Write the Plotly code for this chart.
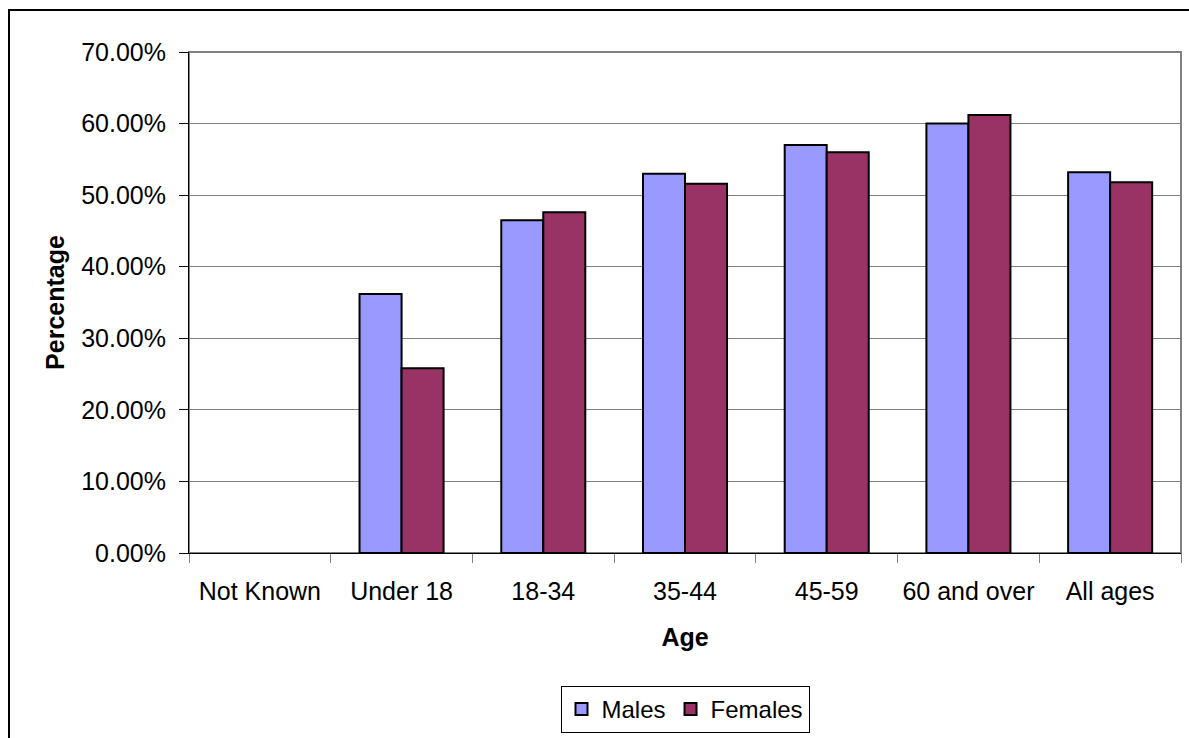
import plotly.graph_objects as go

# Share of people by age group and sex
age_groups = ["Not Known", "Under 18", "18-34", "35-44", "45-59", "60 and over", "All ages"]
males = [0.0, 0.362, 0.465, 0.530, 0.570, 0.600, 0.532]
females = [0.0, 0.258, 0.476, 0.516, 0.560, 0.612, 0.518]
y_ticks = [0.0, 0.1, 0.2, 0.3, 0.4, 0.5, 0.6, 0.7]

FONT = "Liberation Sans, Arial, sans-serif"


def outline(values):
    # no outline for empty bars, so nothing is stroked on the axis
    return [2 if v > 0 else 0 for v in values]


fig = go.Figure()
fig.add_trace(go.Bar(
    name="Males", x=age_groups, y=males,
    marker=dict(color="#9999FF", line=dict(color="#000000", width=outline(males))),
))
fig.add_trace(go.Bar(
    name="Females", x=age_groups, y=females,
    marker=dict(color="#993366", line=dict(color="#000000", width=outline(females))),
))

W, H = 1189, 738
L, R, T, B = 189, 8, 52, 185
pw, ph = W - L - R, H - T - B


def px_x(x):
    return (x - L) / pw


def px_y(y):
    return (H - B - y) / ph


fig.update_layout(
    width=W, height=H,
    margin=dict(l=L, r=R, t=T, b=B, autoexpand=False),
    paper_bgcolor="white", plot_bgcolor="white",
    font=dict(family=FONT, size=25, color="#000000"),
    barmode="group", bargap=0.407, bargroupgap=0,
    showlegend=True,
    legend=dict(
        orientation="h", x=0.5, xanchor="center",
        y=px_y(686), yanchor="top",
        bordercolor="#000000", borderwidth=1,
        font=dict(size=24), itemsizing="constant",
        traceorder="normal", itemwidth=30,
    ),
    xaxis=dict(
        showgrid=False, showline=True, linecolor="#000000", linewidth=1,
        ticks="outside", tickson="boundaries", ticklen=9, tickcolor="#808080",
        tickfont=dict(size=25), ticklabelstandoff=16, tickangle=0,
        title=dict(text="<b>Age</b>", font=dict(size=25), standoff=24),
    ),
    yaxis=dict(
        range=[0, 0.7], tickvals=y_ticks, tickformat=".2%",
        showgrid=True, gridcolor="#808080", gridwidth=1,
        showline=True, linecolor="#000000", linewidth=1,
        ticks="outside", ticklen=9, tickcolor="#000000",
        tickfont=dict(size=25), ticklabelstandoff=8, zeroline=False,
        title=dict(text="<b>Percentage</b>", font=dict(size=25), standoff=9),
    ),
    shapes=[
        # plot-area frame (top and right sides in grey)
        dict(type="rect", xref="paper", yref="paper", x0=0, x1=1, y0=0, y1=1,
             line=dict(color="#808080", width=2), layer="below"),
        # outer chart frame
        dict(type="rect", xref="paper", yref="paper",
             x0=px_x(9), x1=px_x(W + 20), y0=px_y(H + 20), y1=px_y(10),
             line=dict(color="#000000", width=2)),
    ],
)

fig.write_html("out.html")
